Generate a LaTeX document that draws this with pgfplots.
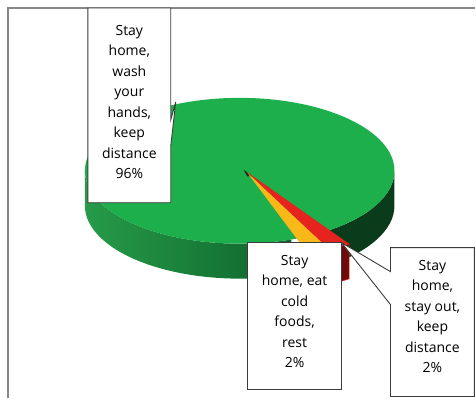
\documentclass[border=0pt]{standalone}
\usepackage{pgfplots}
\usepackage{pgfplotstable}
\pgfplotsset{compat=1.18}
\usepackage{fontspec}
\setmainfont{Open Sans}

\definecolor{pieTop}{RGB}{28,175,75}
\definecolor{wallLight}{RGB}{38,155,72}
\definecolor{wallMid}{RGB}{14,100,44}
\definecolor{wallDark}{RGB}{10,60,28}
\definecolor{tipDark}{RGB}{12,45,22}
\definecolor{sliceYellow}{RGB}{248,184,24}
\definecolor{sliceYellowDark}{RGB}{150,100,10}
\definecolor{sliceRed}{RGB}{230,35,30}
\definecolor{sliceRedDark}{RGB}{110,10,10}
\definecolor{boxLine}{RGB}{60,60,60}
\definecolor{frameLine}{RGB}{135,135,135}

% shares in percent: wash hands / eat cold foods / stay out
\pgfplotstableread{
share
96
2
2
}\piedata

\begin{document}
\begin{tikzpicture}
\pgfplotstablegetelem{0}{share}\of\piedata \let\shareGreen\pgfplotsretval
\pgfplotstablegetelem{1}{share}\of\piedata \let\shareYellow\pgfplotsretval
\pgfplotstablegetelem{2}{share}\of\piedata \let\shareRed\pgfplotsretval
% edge angles of the slices (degrees), yellow slice starts at -70.5
\pgfmathsetmacro\aY{-70.5}
\pgfmathsetmacro\aR{\aY+3.6*\shareYellow}
\pgfmathsetmacro\aG{\aR+3.6*\shareRed}
\pgfmathsetmacro\aE{\aG+3.6*\shareGreen}
% main pie: centre, radii, thickness
\def\cx{240}\def\cy{171}\def\rx{155}\def\ry{73}\def\h{35}
% pulled-out small slices: apex and radii
\def\px{247}\def\py{172}\def\sx{184}\def\sy{87}

\begin{axis}[scale only axis, width=476bp, height=399bp,
  xmin=0, xmax=476, ymin=0, ymax=399, y dir=reverse,
  hide axis, clip=false]

\addplot[draw=none] coordinates {(0,0)};

% side wall of the big slice
\shade[left color=wallLight, right color=wallMid]
  (axis cs:\cx,\cy) ++(180:\rx bp and \ry bp)
  arc[start angle=180, end angle=\aE, x radius=\rx bp, y radius=\ry bp]
  -- ++(0,-\h bp)
  arc[start angle=\aE, end angle=180, x radius=\rx bp, y radius=\ry bp] -- cycle;
\fill[wallDark]
  (axis cs:\cx,\cy) ++(\aG:\rx bp and \ry bp)
  arc[start angle=\aG, end angle=0, x radius=\rx bp, y radius=\ry bp]
  -- ++(0,-\h bp)
  arc[start angle=0, end angle=\aG, x radius=\rx bp, y radius=\ry bp] -- cycle;

% top face
\fill[pieTop] (axis cs:\cx,\cy) ellipse[x radius=\rx bp, y radius=\ry bp];

% shadowed tip where the small slices are pulled out
\fill[tipDark] (axis cs:\px-3,\py-2) -- ++(\aY-4:14bp and 7bp)
  arc[start angle=\aY-4, end angle=\aG, x radius=14bp, y radius=7bp] -- cycle;

% side walls of the small slices
\fill[sliceYellowDark]
  (axis cs:\px,\py) ++(\aY:\sx bp and \sy bp)
  arc[start angle=\aY, end angle=\aR, x radius=\sx bp, y radius=\sy bp]
  -- ++(0,-\h bp)
  arc[start angle=\aR, end angle=\aY, x radius=\sx bp, y radius=\sy bp] -- cycle;
\filldraw[fill=sliceRedDark, draw=sliceRed, line width=0.6bp]
  (axis cs:\px,\py) ++(\aR:\sx bp and \sy bp)
  arc[start angle=\aR, end angle=\aG, x radius=\sx bp, y radius=\sy bp]
  -- ++(0,-\h bp)
  arc[start angle=\aG, end angle=\aR, x radius=\sx bp, y radius=\sy bp] -- cycle;

% tops of the small slices
\fill[sliceYellow] (axis cs:\px,\py) -- ++(\aY:\sx bp and \sy bp)
  arc[start angle=\aY, end angle=\aR, x radius=\sx bp, y radius=\sy bp] -- cycle;
\fill[sliceRed] (axis cs:\px,\py) -- ++(\aR:\sx bp and \sy bp)
  arc[start angle=\aR, end angle=\aG, x radius=\sx bp, y radius=\sy bp] -- cycle;

% outer frame
\draw[frameLine, line width=1.3bp] (axis cs:8,399) -- (axis cs:8,8) -- (axis cs:476,8);

% callout boxes
\filldraw[draw=boxLine, fill=white, line width=0.9bp]
  (axis cs:88,8) -- (axis cs:171,8) -- (axis cs:171,120) -- (axis cs:176,102)
  -- (axis cs:171,146) -- (axis cs:171,203) -- (axis cs:88,203) -- cycle;
\filldraw[draw=boxLine, fill=white, line width=0.9bp]
  (axis cs:248,243) rectangle (axis cs:342,390);
\filldraw[draw=boxLine, fill=white, line width=0.9bp]
  (axis cs:391,248) -- (axis cs:475,248) -- (axis cs:475,397) -- (axis cs:391,397)
  -- (axis cs:391,305) -- (axis cs:342,243) -- (axis cs:391,272) -- cycle;

\node[font=\fontsize{14bp}{20.5bp}\selectfont, align=center, inner sep=0pt]
  at (axis cs:129.5,102) {Stay\\home,\\wash\\your\\hands,\\keep\\distance\\96\%};
\node[font=\fontsize{14bp}{20.5bp}\selectfont, align=center, inner sep=0pt]
  at (axis cs:295,312) {Stay\\home, eat\\cold\\foods,\\rest\\2\%};
\node[font=\fontsize{14bp}{20.5bp}\selectfont, align=center, inner sep=0pt]
  at (axis cs:433,317) {Stay\\home,\\stay out,\\keep\\distance\\2\%};
\end{axis}
\end{tikzpicture}
\end{document}
